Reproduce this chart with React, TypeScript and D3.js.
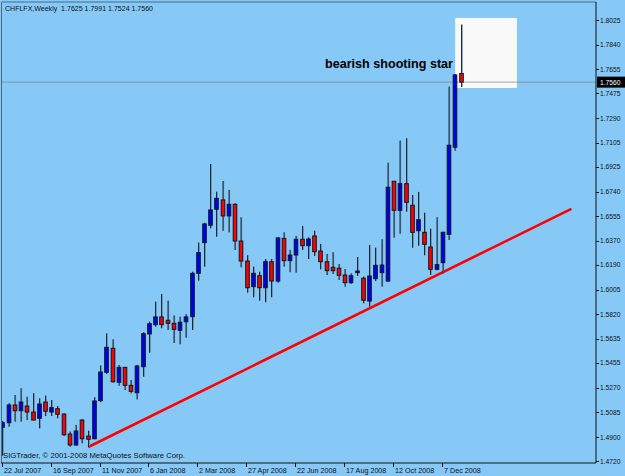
import React from 'react';
import * as d3 from 'd3';

const W = 625;
const H = 476;

const opens = [1.4973, 1.5007, 1.5140, 1.5097, 1.5132, 1.5087, 1.5040, 1.5162, 1.5087, 1.5112,
  1.5072, 1.4922, 1.4840, 1.5027, 1.4907, 1.4887, 1.5172, 1.5385, 1.5565, 1.5310,
  1.5422, 1.5287, 1.5232, 1.5427, 1.5672, 1.5742, 1.5800, 1.5775, 1.5752, 1.5700,
  1.5764, 1.5802, 1.6127, 1.6357, 1.6487, 1.6607, 1.6677, 1.6557, 1.6644, 1.6369,
  1.6219, 1.6027, 1.6109, 1.6019, 1.6214, 1.6069, 1.6389, 1.6222, 1.6264, 1.6382,
  1.6334, 1.6407, 1.6294, 1.6214, 1.6172, 1.6165, 1.6114, 1.6057, 1.6132, 1.6090,
  1.5919, 1.6087, 1.6132, 1.6069, 1.6817, 1.6599, 1.6799, 1.6637, 1.6446, 1.6434,
  1.6324, 1.6157, 1.6207, 1.6419, 1.7072, 1.7625];
const highs = [1.5020, 1.5153, 1.5215, 1.5265, 1.5202, 1.5228, 1.5190, 1.5210, 1.5177, 1.5132,
  1.5075, 1.4940, 1.4990, 1.5033, 1.4947, 1.5198, 1.5437, 1.5677, 1.5632, 1.5440,
  1.5425, 1.5327, 1.5440, 1.5685, 1.5764, 1.5914, 1.5972, 1.5922, 1.5810, 1.5802,
  1.5820, 1.6139, 1.6357, 1.6506, 1.6946, 1.6739, 1.6819, 1.6752, 1.6652, 1.6547,
  1.6262, 1.6177, 1.6139, 1.6234, 1.6234, 1.6397, 1.6434, 1.6302, 1.6407, 1.6482,
  1.6397, 1.6446, 1.6347, 1.6272, 1.6285, 1.6197, 1.6159, 1.6127, 1.6249, 1.6102,
  1.6339, 1.6319, 1.6382, 1.6956, 1.6819, 1.7121, 1.7139, 1.6714, 1.6737, 1.6581,
  1.6461, 1.6547, 1.6440, 1.7526, 1.7621, 1.7991];
const lows = [1.4760, 1.4977, 1.5015, 1.5015, 1.5027, 1.5025, 1.4965, 1.5057, 1.5057, 1.5040,
  1.4907, 1.4827, 1.4835, 1.4853, 1.4823, 1.4883, 1.5162, 1.5372, 1.5307, 1.5284,
  1.5252, 1.5227, 1.5182, 1.5352, 1.5532, 1.5727, 1.5715, 1.5702, 1.5605, 1.5595,
  1.5644, 1.5702, 1.6072, 1.6177, 1.6464, 1.6401, 1.6446, 1.6434, 1.6302, 1.6172,
  1.5982, 1.5947, 1.5922, 1.5910, 1.5947, 1.6057, 1.6177, 1.6135, 1.6132, 1.6302,
  1.6234, 1.6257, 1.6157, 1.6114, 1.6122, 1.6077, 1.6027, 1.6047, 1.6107, 1.5902,
  1.5877, 1.6069, 1.6027, 1.6064, 1.6394, 1.6424, 1.6589, 1.6319, 1.6334, 1.6262,
  1.6114, 1.6150, 1.6127, 1.6377, 1.7046, 1.7524];
const closes = [1.5007, 1.5140, 1.5097, 1.5162, 1.5087, 1.5027, 1.5147, 1.5093, 1.5120, 1.5070,
  1.4917, 1.4840, 1.4945, 1.4887, 1.4883, 1.5170, 1.5387, 1.5572, 1.5314, 1.5422,
  1.5287, 1.5242, 1.5432, 1.5674, 1.5749, 1.5800, 1.5742, 1.5752, 1.5707, 1.5760,
  1.5800, 1.6127, 1.6282, 1.6497, 1.6602, 1.6689, 1.6557, 1.6644, 1.6369, 1.6219,
  1.6019, 1.6127, 1.6019, 1.6214, 1.6069, 1.6392, 1.6222, 1.6264, 1.6382, 1.6334,
  1.6384, 1.6289, 1.6214, 1.6147, 1.6147, 1.6112, 1.6057, 1.6109, 1.6144, 1.5925,
  1.6107, 1.6187, 1.6189, 1.6772, 1.6599, 1.6799, 1.6659, 1.6434, 1.6529, 1.6344,
  1.6157, 1.6192, 1.6434, 1.7087, 1.7614, 1.7560];

const dateTickLabels = ['22 Jul 2007', '16 Sep 2007', '11 Nov 2007', '6 Jan 2008', '2 Mar 2008',
  '27 Apr 2008', '22 Jun 2008', '17 Aug 2008', '12 Oct 2008', '7 Dec 2008'];
const dateTickEvery = 8;
const priceTicks = [1.8025, 1.7840, 1.7655, 1.7475, 1.7290, 1.7105, 1.6925, 1.6740, 1.6555, 1.6370,
  1.6190, 1.6005, 1.5820, 1.5635, 1.5455, 1.5270, 1.5085, 1.4900, 1.4720];

const titleText = 'CHFLFX,Weekly  1.7625 1.7991 1.7524 1.7560';
const copyrightText = 'SIGTrader, \u00a9 2001-2008 MetaQuotes Software Corp.';
const annotationText = 'bearish shooting star';
const lastPrice = 1.7560;
const trendBars = [14, 93];
const trendPrices = [1.4825, 1.6610];
const boxBars = [74, 84.1];
const boxPrices = [1.7516, 1.8041];

const BG = '#86c8f6';
const FONT = '"Liberation Sans", Arial, sans-serif';

export default function App() {
  const plot = { left: 2, right: 596, top: 2, bottom: 463 };
  const x = d3.scaleLinear().domain([0, 75]).range([2.7, 461.3]);
  const y = d3.scaleLinear().domain([1.4720, 1.8025]).range([461, 20.1]);
  const bodyW = 3.6;

  const candles = opens.map((o, i) => ({ i, o, h: highs[i], l: lows[i], c: closes[i] }));
  const trendLine = d3.line<[number, number]>().x(d => x(d[0])).y(d => y(d[1]));
  const trendPts: [number, number][] = trendBars.map((b, k) => [b, trendPrices[k]]);

  return (
    <svg width={W} height={H} style={{ position: 'fixed', left: 0, top: 0, display: 'block' }}
      xmlns="http://www.w3.org/2000/svg">
      <defs>
        <clipPath id="plotClip">
          <rect x={plot.left} y={plot.top} width={plot.right - plot.left} height={plot.bottom - plot.top} />
        </clipPath>
      </defs>
      <rect x={0} y={0} width={W} height={H} fill={BG} />

      <g clipPath="url(#plotClip)">
        <rect x={x(boxBars[0])} y={y(boxPrices[1])} width={x(boxBars[1]) - x(boxBars[0])}
          height={y(boxPrices[0]) - y(boxPrices[1])} fill="#f9f9f9" />
        <line x1={plot.left} x2={plot.right} y1={y(lastPrice)} y2={y(lastPrice)}
          stroke="#808080" strokeOpacity={0.55} strokeWidth={1.2} />
        <path d={trendLine(trendPts) || ''} stroke="#ff0000" strokeWidth={2.6} fill="none" />
        {candles.map(d => {
          const cx = Math.round(x(d.i) * 2) / 2;
          const top = y(Math.max(d.o, d.c));
          const bot = y(Math.min(d.o, d.c));
          const bull = d.c >= d.o;
          return (
            <g key={d.i}>
              <line x1={cx + 0.6} x2={cx + 0.6} y1={y(d.h)} y2={y(d.l)} stroke="#5a7890" strokeWidth={1} />
              <line x1={cx} x2={cx} y1={y(d.h)} y2={y(d.l)} stroke="#1e2a36" strokeWidth={1} />
              <rect x={cx - bodyW / 2} y={top} width={bodyW} height={Math.max(1, bot - top)}
                fill={bull ? '#0000f0' : '#ff0000'} stroke="#101820" strokeWidth={1} />
            </g>
          );
        })}
      </g>

      <line x1={1.5} x2={1.5} y1={plot.top} y2={plot.bottom} stroke="#4a6a86" strokeWidth={1} />
      <line x1={plot.left} x2={plot.right} y1={plot.top} y2={plot.top} stroke="#4a6a86" strokeWidth={1} />
      <line x1={plot.right} x2={plot.right} y1={plot.top} y2={plot.bottom} stroke="#111" strokeWidth={1} />
      <line x1={1} x2={plot.right} y1={plot.bottom} y2={plot.bottom} stroke="#111" strokeWidth={1} />

      {priceTicks.map(p => (
        <g key={p}>
          <line x1={plot.right} x2={plot.right + 3} y1={Math.round(y(p)) + 0.5} y2={Math.round(y(p)) + 0.5} stroke="#111" />
          <text x={600} y={y(p)} dy="0.35em" fontSize={7.2} fontFamily={FONT} fill="#111"
            textLength={20.5} lengthAdjust="spacingAndGlyphs">{p.toFixed(4)}</text>
        </g>
      ))}

      <rect x={597} y={y(lastPrice) - 5.5} width={28} height={11} fill="#000" />
      <text x={600} y={y(lastPrice)} dy="0.35em" fontSize={7.2} fontFamily={FONT} fill="#fff"
        textLength={20.5} lengthAdjust="spacingAndGlyphs">{lastPrice.toFixed(4)}</text>

      {dateTickLabels.map((lab, k) => {
        const tx = Math.round(x(k * dateTickEvery)) - 0.5;
        return (
          <g key={lab}>
            <line x1={tx} x2={tx} y1={plot.bottom} y2={plot.bottom + 4} stroke="#111" />
            <text x={tx + 1.5} y={473} fontSize={7.2} fontFamily={FONT} fill="#111">{lab}</text>
          </g>
        );
      })}

      <text x={5} y={11} fontSize={7.6} fontFamily={FONT} fill="#111" style={{ whiteSpace: 'pre' }}
        textLength={148} lengthAdjust="spacingAndGlyphs">{titleText}</text>
      <text x={3} y={458} fontSize={7.6} fontFamily={FONT} fill="#111"
        textLength={182} lengthAdjust="spacingAndGlyphs">{copyrightText}</text>
      <text x={453} y={68} textAnchor="end" fontSize={12.7} fontWeight="bold" fontFamily={FONT} fill="#000"
        textLength={128} lengthAdjust="spacingAndGlyphs">{annotationText}</text>
    </svg>
  );
}
